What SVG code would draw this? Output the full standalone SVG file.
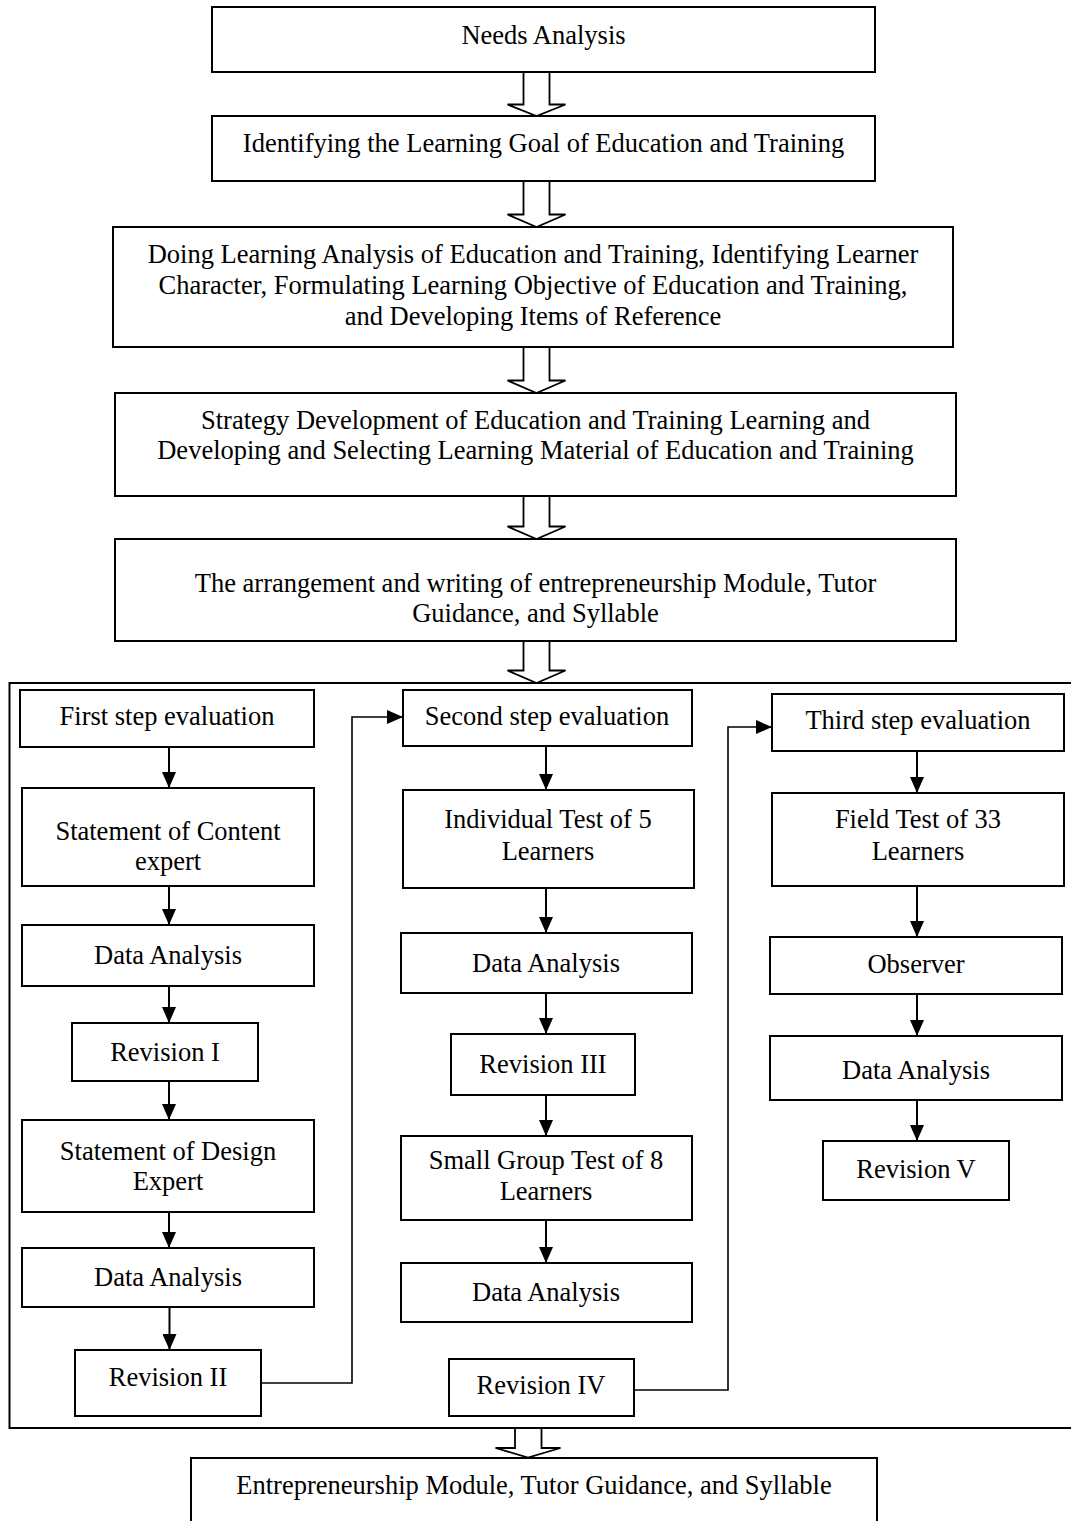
<svg xmlns="http://www.w3.org/2000/svg" width="1071" height="1521" viewBox="0 0 1071 1521">
<style>
.box{fill:#fff;stroke:#000;stroke-width:2}
.frame{fill:none;stroke:#000;stroke-width:2}
.big{fill:#fff;stroke:#000;stroke-width:1.8}
text{font-family:"Liberation Serif","Times New Roman",serif;font-size:26.5px;fill:#000;text-anchor:middle}
.ln{fill:none;stroke:#000;stroke-width:2}
.cn{fill:none;stroke:#000;stroke-width:1.6}
</style>
<defs>
<marker id="ah" markerWidth="16" markerHeight="14" refX="16" refY="7" orient="auto" markerUnits="userSpaceOnUse" viewBox="0 0 16 14">
<path d="M0,0 L16,7 L0,14 Z" fill="#000"/>
</marker>
</defs>
<rect width="1071" height="1521" fill="#fff"/>

<g id="frame"><rect class="frame" x="9.5" y="683" width="1064" height="745"/></g>

<g id="n1"><rect class="box" x="212" y="7" width="663" height="65"/><text x="543.5" y="44">Needs Analysis</text></g>
<g id="n2"><rect class="box" x="212" y="116" width="663" height="65"/><text x="543.5" y="152">Identifying the Learning Goal of Education and Training</text></g>
<g id="n3"><rect class="box" x="113" y="227" width="840" height="120"/>
<text x="533" y="263">Doing Learning Analysis of Education and Training, Identifying Learner</text>
<text x="533" y="294">Character, Formulating Learning Objective of Education and Training,</text>
<text x="533" y="325">and Developing Items of Reference</text></g>
<g id="n4"><rect class="box" x="115" y="393" width="841" height="103"/>
<text x="535.5" y="429">Strategy Development of Education and Training Learning and</text>
<text x="535.5" y="459">Developing and Selecting Learning Material of Education and Training</text></g>
<g id="n5"><rect class="box" x="115" y="539" width="841" height="102"/>
<text x="535.5" y="592">The arrangement and writing of entrepreneurship Module, Tutor</text>
<text x="535.5" y="622">Guidance, and Syllable</text></g>

<g id="c1a"><rect class="box" x="20" y="690" width="294" height="57"/><text x="167" y="725">First step evaluation</text></g>
<g id="c1b"><rect class="box" x="22" y="788" width="292" height="98"/><text x="168" y="840">Statement of Content</text><text x="168" y="870">expert</text></g>
<g id="c1c"><rect class="box" x="22" y="925" width="292" height="61"/><text x="168" y="964">Data Analysis</text></g>
<g id="c1d"><rect class="box" x="72" y="1023" width="186" height="58"/><text x="165" y="1061">Revision I</text></g>
<g id="c1e"><rect class="box" x="22" y="1120" width="292" height="92"/><text x="168" y="1160">Statement of Design</text><text x="168" y="1190">Expert</text></g>
<g id="c1f"><rect class="box" x="22" y="1248" width="292" height="59"/><text x="168" y="1286">Data Analysis</text></g>
<g id="c1g"><rect class="box" x="75" y="1350" width="186" height="66"/><text x="168" y="1386">Revision II</text></g>

<g id="c2a"><rect class="box" x="403" y="690" width="289" height="56"/><text x="547" y="725">Second step evaluation</text></g>
<g id="c2b"><rect class="box" x="403" y="790" width="291" height="98"/><text x="548" y="828">Individual Test of 5</text><text x="548" y="860">Learners</text></g>
<g id="c2c"><rect class="box" x="401" y="933" width="291" height="60"/><text x="546" y="972">Data Analysis</text></g>
<g id="c2d"><rect class="box" x="451" y="1034" width="184" height="61"/><text x="543" y="1073">Revision III</text></g>
<g id="c2e"><rect class="box" x="401" y="1136" width="291" height="84"/><text x="546" y="1169">Small Group Test of 8</text><text x="546" y="1200">Learners</text></g>
<g id="c2f"><rect class="box" x="401" y="1263" width="291" height="59"/><text x="546" y="1301">Data Analysis</text></g>
<g id="c2g"><rect class="box" x="449" y="1359" width="185" height="57"/><text x="541" y="1394">Revision IV</text></g>

<g id="c3a"><rect class="box" x="772" y="694" width="292" height="57"/><text x="918" y="729">Third step evaluation</text></g>
<g id="c3b"><rect class="box" x="772" y="793" width="292" height="93"/><text x="918" y="828">Field Test of 33</text><text x="918" y="860">Learners</text></g>
<g id="c3c"><rect class="box" x="770" y="937" width="292" height="57"/><text x="916" y="973">Observer</text></g>
<g id="c3d"><rect class="box" x="770" y="1036" width="292" height="64"/><text x="916" y="1079">Data Analysis</text></g>
<g id="c3e"><rect class="box" x="823" y="1141" width="186" height="59"/><text x="916" y="1178">Revision V</text></g>

<g id="n6"><rect class="box" x="191" y="1458" width="686" height="80"/><text x="534" y="1494">Entrepreneurship Module, Tutor Guidance, and Syllable</text></g>

<g id="connectors">
<polygon class="big" points="523.5,72 549.5,72 549.5,104.5 565.5,104.5 536.5,116 507.5,104.5 523.5,104.5"/>
<polygon class="big" points="523.5,181 549.5,181 549.5,214.5 565.5,214.5 536.5,227 507.5,214.5 523.5,214.5"/>
<polygon class="big" points="523.5,347 549.5,347 549.5,380.5 565.5,380.5 536.5,393 507.5,380.5 523.5,380.5"/>
<polygon class="big" points="523.5,496 549.5,496 549.5,526.5 565.5,526.5 536.5,539 507.5,526.5 523.5,526.5"/>
<polygon class="big" points="523.5,641 549.5,641 549.5,670.5 565.5,670.5 536.5,683 507.5,670.5 523.5,670.5"/>
<polygon class="big" points="515,1428 541.5,1428 541.5,1448 560.5,1448 528,1457.5 495.5,1448 515,1448"/>

<line class="ln" x1="169" y1="747" x2="169" y2="788" marker-end="url(#ah)"/>
<line class="ln" x1="169" y1="886" x2="169" y2="925" marker-end="url(#ah)"/>
<line class="ln" x1="169" y1="986" x2="169" y2="1023" marker-end="url(#ah)"/>
<line class="ln" x1="169" y1="1081" x2="169" y2="1120" marker-end="url(#ah)"/>
<line class="ln" x1="169" y1="1212" x2="169" y2="1248" marker-end="url(#ah)"/>
<line class="ln" x1="169.5" y1="1307" x2="169.5" y2="1350" marker-end="url(#ah)"/>

<line class="ln" x1="546" y1="746" x2="546" y2="790" marker-end="url(#ah)"/>
<line class="ln" x1="546" y1="888" x2="546" y2="933" marker-end="url(#ah)"/>
<line class="ln" x1="546" y1="993" x2="546" y2="1034" marker-end="url(#ah)"/>
<line class="ln" x1="546" y1="1095" x2="546" y2="1136" marker-end="url(#ah)"/>
<line class="ln" x1="546" y1="1220" x2="546" y2="1263" marker-end="url(#ah)"/>

<line class="ln" x1="917" y1="751" x2="917" y2="793" marker-end="url(#ah)"/>
<line class="ln" x1="917" y1="886" x2="917" y2="937" marker-end="url(#ah)"/>
<line class="ln" x1="917" y1="994" x2="917" y2="1036" marker-end="url(#ah)"/>
<line class="ln" x1="917" y1="1100" x2="917" y2="1141" marker-end="url(#ah)"/>

<polyline class="cn" points="261,1383 352,1383 352,717 403,717" marker-end="url(#ah)"/>
<polyline class="cn" points="634,1390 728,1390 728,727 772,727" marker-end="url(#ah)"/>
</g>
</svg>
